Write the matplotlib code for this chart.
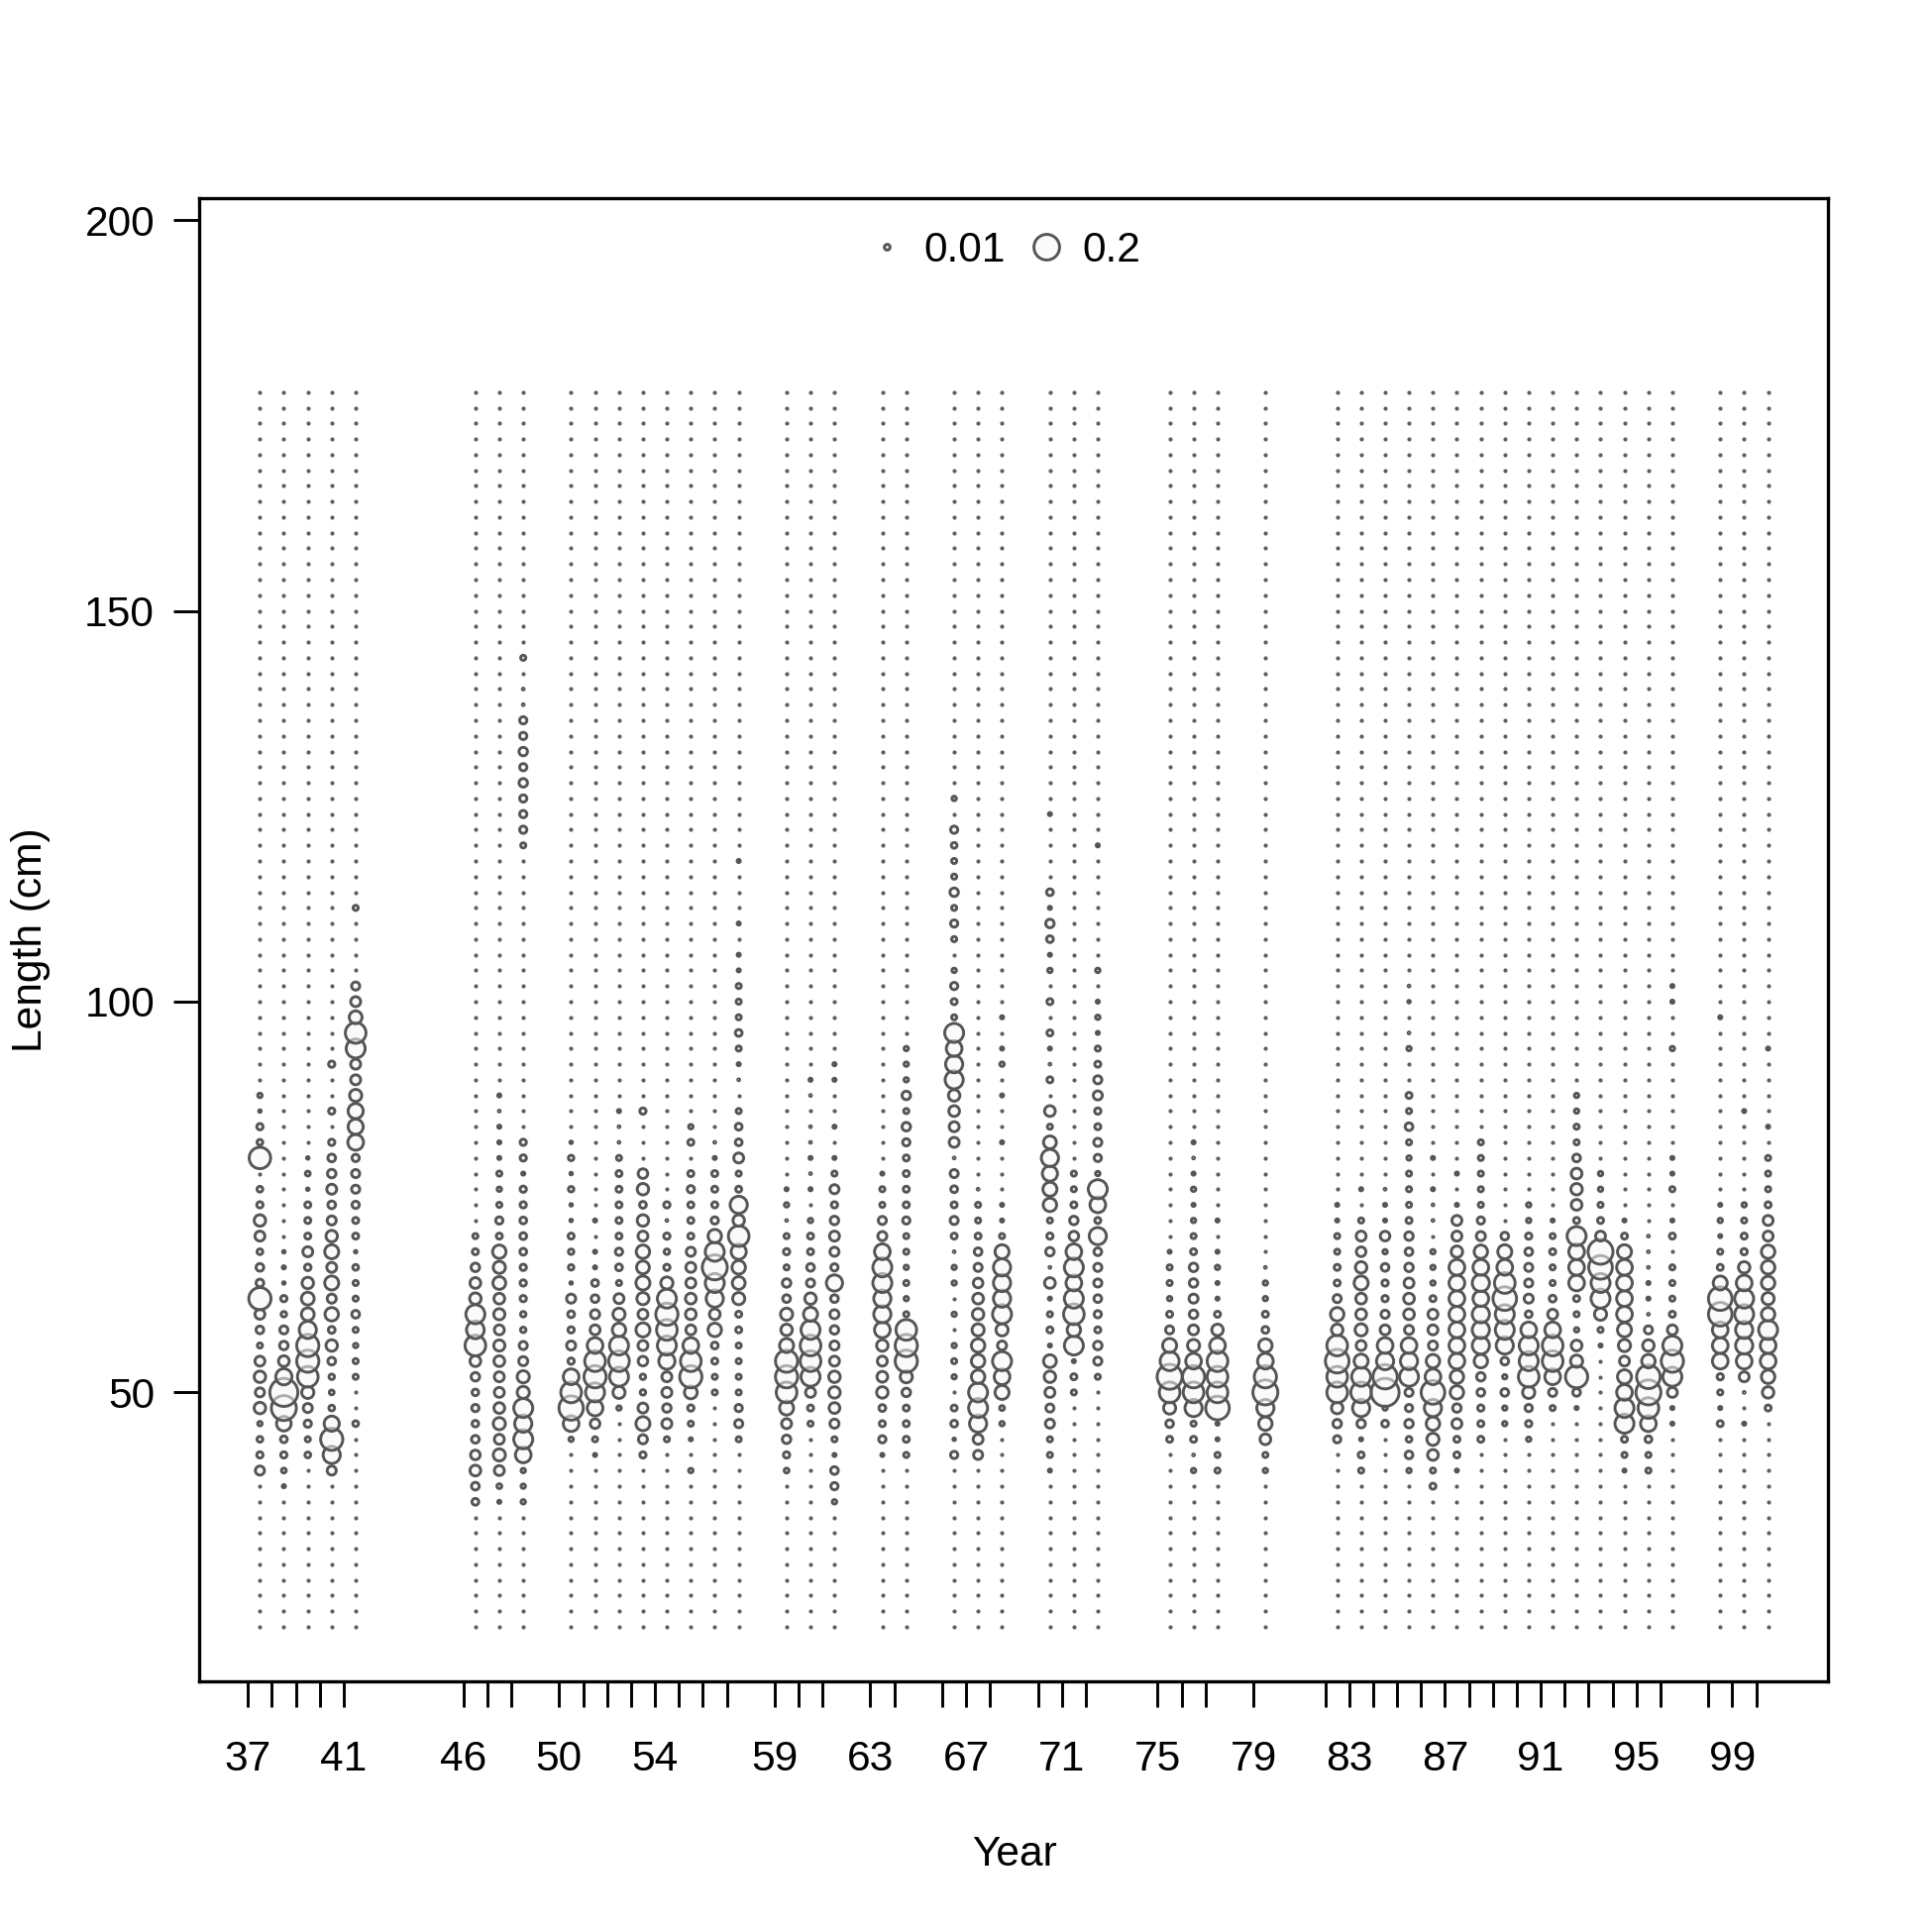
"""
Length composition bubble plot by year (proportion at length).
"""

import numpy as np
import matplotlib
matplotlib.use("Agg")
import matplotlib.pyplot as plt
from matplotlib.lines import Line2D

plt.rcParams['font.family'] = ['Liberation Sans', 'DejaVu Sans']

# length bins (cm)
bins = np.arange(20, 180, 2)

# sampled years and the first length bin listed for each
years = [37, 38, 39, 40, 41, 46, 47, 48, 50, 51, 52, 53, 54, 55, 56, 57,
         59, 60, 61, 63, 64, 66, 67, 68, 70, 71, 72, 75, 76, 77, 79,
         82, 83, 84, 85, 86, 87, 88, 89, 90, 91, 92, 93, 94, 95, 96,
         98, 99, 100]
first_len = [40, 38, 42, 40, 46, 36, 36, 36, 44, 42, 48, 42, 44, 40, 50, 44,
             40, 46, 36, 42, 42, 42, 42, 46, 40, 50, 52, 44, 40, 40, 40,
             44, 40, 46, 40, 38, 40, 44, 46, 44, 48, 48, 56, 40, 40, 46,
             46, 46, 48]

# proportions at length, one row per year, bins every 2 cm from first_len
props = [
    [0.025, 0.012, 0.01, 0.006, 0.04, 0.025, 0.04, 0.03, 0.008, 0.018, 0.03, 0.15, 0.018,
     0.018, 0.01, 0.03, 0.04, 0.012, 0.01, 0, 0.14, 0.01, 0.012, 0.002, 0.006],            # 37
    [0.003, 0.007, 0.012, 0.014, 0.065, 0.19, 0.24, 0.08, 0.035, 0.022, 0.02, 0.009, 0.012,
     0.002, 0.003, 0.002],                                                                    # 38
    [0.01, 0.008, 0.016, 0.025, 0.045, 0.13, 0.15, 0.15, 0.09, 0.05, 0.05, 0.04, 0.013,
     0.03, 0.011, 0.011, 0.011, 0.002, 0.007, 0.002],                                        # 39
    [0.025, 0.09, 0.15, 0.07, 0.01, 0.007, 0.009, 0.018, 0.04, 0.014, 0.055, 0.025, 0.06,
     0.03, 0.06, 0.04, 0.025, 0.018, 0.03, 0.022, 0.018, 0.012, 0, 0.012, 0, 0, 0.012],     # 40
    [0.01, 0, 0, 0.008, 0.008, 0.006, 0.008, 0.018, 0.008, 0.008, 0.01, 0.002, 0.011,
     0.011, 0.016, 0.02, 0.02, 0.016, 0.075, 0.07, 0.07, 0.045, 0.03, 0.03, 0.11, 0.13,
     0.05, 0.03, 0.02, 0, 0, 0, 0, 0.008],                                                   # 41
    [0.014, 0.018, 0.035, 0.028, 0.018, 0.013, 0.016, 0.013, 0.022, 0.035, 0.13, 0.095,
     0.11, 0.04, 0.035, 0.022, 0.011, 0.008],                                                 # 46
    [0.003, 0.007, 0.03, 0.045, 0.03, 0.045, 0.035, 0.03, 0.03, 0.035, 0.038, 0.03, 0.038,
     0.035, 0.05, 0.045, 0.055, 0.011, 0.016, 0.008, 0.006, 0.008, 0.003, 0.003, 0.003,
     0.001, 0.003],                                                                           # 47
    [0.006, 0.006, 0.006, 0.075, 0.11, 0.09, 0.11, 0.045, 0.045, 0.025, 0.02, 0.009, 0.009,
     0.012, 0.012, 0.012, 0.014, 0.014, 0.014, 0.012, 0.012, 0.003, 0.012, 0.012,
     0, 0, 0, 0, 0, 0, 0, 0, 0, 0, 0, 0, 0, 0, 0, 0, 0, 0,
     0.008, 0.016, 0.016, 0.016, 0.022, 0.016, 0.022, 0.016, 0.016, 0.001, 0.001, 0, 0.008],  # 48
    [0.006, 0.075, 0.18, 0.13, 0.075, 0.012, 0.025, 0.012, 0.014, 0.025, 0.002, 0.009,
     0.009, 0.011, 0.002, 0.002, 0.009, 0.002, 0.009, 0.002],                                # 50
    [0.003, 0.008, 0.028, 0.075, 0.11, 0.15, 0.13, 0.075, 0.03, 0.025, 0.018, 0.014, 0.003,
     0.003, 0, 0.003],                                                                        # 51
    [0.006, 0.045, 0.11, 0.13, 0.11, 0.055, 0.045, 0.03, 0.008, 0.014, 0.016, 0.011, 0.011,
     0.011, 0.011, 0.011, 0.008, 0.001, 0.001, 0.003],                                       # 52
    [0.012, 0.025, 0.06, 0.03, 0.009, 0.009, 0.028, 0.03, 0.06, 0.03, 0.045, 0.06, 0.05,
     0.055, 0.03, 0.04, 0.014, 0.04, 0.028, 0, 0, 0, 0.012],                                 # 53
    [0.008, 0.03, 0.022, 0.03, 0.03, 0.08, 0.11, 0.13, 0.15, 0.11, 0.045, 0.012, 0.009,
     0.012, 0.001, 0.012],                                                                    # 54
    [0.006, 0, 0.003, 0.008, 0.012, 0.05, 0.15, 0.13, 0.075, 0.03, 0.035, 0.035, 0.03, 0.03,
     0.025, 0.011, 0.011, 0.011, 0.016, 0.011, 0, 0.011, 0.006],                             # 55
    [0.008, 0.008, 0.011, 0.014, 0.055, 0.035, 0.09, 0.11, 0.19, 0.11, 0.055, 0.016, 0.011,
     0.011, 0.011, 0.003, 0.001],                                                             # 56
    [0.008, 0.02, 0.016, 0.008, 0.008, 0.008, 0.008, 0.011, 0.011, 0.045, 0.05, 0.055, 0.07,
     0.13, 0.04, 0.09, 0.011, 0.008, 0.03, 0.014, 0.014, 0.008, 0, 0.001, 0.003, 0.008,
     0.014, 0.008, 0.008, 0.008, 0.003, 0.003, 0, 0.003, 0, 0, 0, 0.003],                    # 57
    [0.007, 0.012, 0.022, 0.03, 0.06, 0.13, 0.15, 0.15, 0.06, 0.04, 0.045, 0.018, 0.022,
     0.008, 0.012, 0.008, 0.001, 0.006, 0.003],                                               # 59
    [0.008, 0.011, 0.03, 0.11, 0.13, 0.13, 0.11, 0.06, 0.04, 0.02, 0.018, 0.011, 0.011,
     0.006, 0, 0.003, 0.001, 0.003, 0.001, 0.001, 0, 0.001, 0.003],                          # 60
    [0.006, 0.016, 0.018, 0.003, 0.008, 0.025, 0.035, 0.04, 0.04, 0.03, 0.025, 0.022, 0.025,
     0.018, 0.08, 0.016, 0.025, 0.03, 0.022, 0.012, 0.025, 0.008, 0.003, 0, 0.003, 0, 0,
     0.003, 0.003],                                                                           # 61
    [0.003, 0.016, 0.011, 0.014, 0.04, 0.035, 0.03, 0.04, 0.075, 0.09, 0.09, 0.11, 0.11,
     0.075, 0.025, 0.02, 0.008, 0.008, 0.003],                                               # 63
    [0.008, 0.011, 0.011, 0.011, 0.022, 0.045, 0.15, 0.15, 0.13, 0.008, 0.006, 0.008, 0.006,
     0.008, 0.008, 0.016, 0.011, 0.011, 0.011, 0.011, 0.016, 0.022, 0.008, 0.022, 0.006,
     0.006, 0.006],                                                                           # 64
    [0.016, 0.002, 0.014, 0.011, 0, 0.006, 0.008, 0.006, 0, 0.006, 0, 0.006, 0.006, 0.001,
     0.011, 0.02, 0.011, 0.014, 0.02, 0.001, 0.03, 0.03, 0.035, 0.04, 0.1, 0.09, 0.075,
     0.11, 0.008, 0.011, 0.016, 0.006, 0, 0.008, 0.016, 0.008, 0.022, 0.008, 0.008, 0.01,
     0.016, 0, 0.006],                                                                        # 66
    [0.025, 0.03, 0.09, 0.11, 0.11, 0.055, 0.055, 0.055, 0.045, 0.04, 0.035, 0.028, 0.02,
     0.018, 0.011, 0.008, 0.008, 0.001],                                                      # 67
    [0.006, 0.007, 0.06, 0.075, 0.11, 0.025, 0.045, 0.11, 0.09, 0.09, 0.09, 0.06, 0.008,
     0.003, 0.003, 0, 0, 0, 0.003, 0, 0, 0.003, 0, 0.006, 0.003, 0, 0.003],                  # 68
    [0.003, 0.008, 0.008, 0.025, 0.02, 0.03, 0.04, 0.05, 0.003, 0.011, 0.008, 0.003, 0.035,
     0.001, 0.022, 0.012, 0.008, 0.055, 0.06, 0.07, 0.09, 0.05, 0.008, 0.035, 0, 0.011,
     0.001, 0.003, 0.011, 0, 0.011, 0, 0.006, 0.003, 0.014, 0.022, 0.003, 0.014, 0, 0, 0,
     0, 0.003],                                                                               # 70
    [0.008, 0.011, 0.003, 0.11, 0.055, 0.13, 0.11, 0.075, 0.11, 0.075, 0.028, 0.022, 0.011,
     0.008, 0.008],                                                                           # 71
    [0.008, 0.02, 0.022, 0.011, 0.016, 0.018, 0.02, 0.02, 0.018, 0.09, 0.011, 0.075, 0.11,
     0.006, 0.016, 0.02, 0.011, 0.012, 0.025, 0.02, 0.011, 0.008, 0.003, 0.006, 0.003, 0,
     0.006, 0, 0, 0, 0, 0, 0, 0, 0.003],                                                     # 72
    [0.011, 0.018, 0.045, 0.13, 0.19, 0.11, 0.06, 0.02, 0.011, 0.006, 0.008, 0.008, 0.003],  # 75
    [0.006, 0.001, 0.011, 0.008, 0.09, 0.13, 0.15, 0.075, 0.045, 0.03, 0.022, 0.025, 0.022,
     0.022, 0.011, 0.008, 0.006, 0.003, 0.006, 0.003, 0.001, 0.003],                         # 76
    [0.008, 0.008, 0.003, 0.003, 0.17, 0.13, 0.13, 0.13, 0.075, 0.04, 0.011, 0.003, 0.003,
     0.006, 0.003, 0, 0.003],                                                                 # 77
    [0.006, 0.008, 0.035, 0.055, 0.09, 0.19, 0.15, 0.075, 0.055, 0.014, 0.011, 0.006, 0.006,
     0.001],                                                                                  # 79
    [0.016, 0.022, 0.04, 0.13, 0.13, 0.17, 0.13, 0.04, 0.055, 0.02, 0.011, 0.011, 0.008,
     0.008, 0.003, 0.003],                                                                    # 82
    [0.008, 0.011, 0.003, 0.022, 0.09, 0.13, 0.11, 0.06, 0.03, 0.045, 0.035, 0.035, 0.06,
     0.04, 0.028, 0.03, 0.008, 0, 0.003],                                                     # 83
    [0.014, 0.006, 0.24, 0.18, 0.09, 0.075, 0.03, 0.02, 0.012, 0.012, 0.018, 0.006, 0.028,
     0.003, 0.003, 0.001],                                                                    # 84
    [0.006, 0.018, 0.01, 0.022, 0.016, 0.02, 0.11, 0.09, 0.075, 0.025, 0.035, 0.035, 0.03,
     0.022, 0.018, 0.022, 0.011, 0.008, 0.008, 0.008, 0.006, 0.008, 0.018, 0.008, 0.011,
     0, 0, 0.006, 0.001, 0, 0.002, 0.001],                                                   # 85
    [0.011, 0.008, 0.035, 0.045, 0.055, 0.09, 0.17, 0.075, 0.055, 0.025, 0.03, 0.03, 0.011,
     0.006, 0.006, 0.006, 0, 0.001, 0.001, 0.003, 0, 0.003],                                 # 86
    [0.003, 0.011, 0.011, 0.03, 0.022, 0.055, 0.055, 0.075, 0.075, 0.075, 0.075, 0.075,
     0.075, 0.075, 0.04, 0.03, 0.03, 0.003, 0, 0.003],                                       # 87
    [0.011, 0.011, 0.012, 0.018, 0.022, 0.055, 0.09, 0.09, 0.09, 0.075, 0.09, 0.075, 0.055,
     0.025, 0.016, 0.008, 0.008, 0.008, 0.008, 0.008],                                       # 88
    [0.006, 0.006, 0.018, 0.006, 0.018, 0.09, 0.11, 0.11, 0.17, 0.13, 0.075, 0.06, 0.018],   # 89
    [0.006, 0.012, 0.016, 0.045, 0.13, 0.11, 0.11, 0.075, 0.014, 0.025, 0.02, 0.02, 0.018,
     0.012, 0.006, 0.006],                                                                    # 90
    [0.008, 0.02, 0.075, 0.13, 0.13, 0.075, 0.03, 0.014, 0.008, 0.008, 0.011, 0.008, 0.003],  # 91
    [0.003, 0.018, 0.15, 0.045, 0.035, 0.006, 0.008, 0.011, 0.075, 0.075, 0.075, 0.11, 0.011,
     0.035, 0.04, 0.035, 0.018, 0.008, 0.008, 0.006, 0.006],                                 # 92
    [0.003, 0.008, 0.045, 0.11, 0.11, 0.17, 0.19, 0.03, 0.011, 0.008, 0.006, 0.006],          # 93
    [0.003, 0.008, 0.011, 0.11, 0.11, 0.075, 0.06, 0.03, 0.045, 0.06, 0.075, 0.075, 0.075,
     0.075, 0.06, 0.011, 0.003],                                                              # 94
    [0.008, 0.008, 0.014, 0.075, 0.13, 0.19, 0.17, 0.055, 0.04, 0.02, 0.001, 0.003, 0.003,
     0.001, 0.001, 0.001],                                                                    # 95
    [0.003, 0.003, 0.03, 0.11, 0.15, 0.11, 0.03, 0.011, 0.008, 0.008, 0.008, 0, 0.011, 0.003,
     0, 0.008, 0.003, 0.003, 0, 0, 0, 0, 0, 0, 0.006, 0, 0, 0.003, 0.003],                  # 96
    [0.011, 0.003, 0.008, 0.012, 0.075, 0.075, 0.075, 0.17, 0.17, 0.06, 0.011, 0.008, 0.003,
     0.006, 0.003, 0, 0, 0, 0, 0, 0, 0, 0, 0, 0, 0, 0.003],                                  # 98
    [0.003, 0, 0.001, 0.03, 0.075, 0.09, 0.09, 0.11, 0.11, 0.075, 0.04, 0.012, 0.011, 0.008,
     0.006, 0, 0, 0, 0, 0, 0.003],                                                            # 99
    [0.011, 0.04, 0.055, 0.075, 0.075, 0.11, 0.055, 0.045, 0.055, 0.055, 0.055, 0.03, 0.03,
     0.011, 0.008, 0.008, 0.008, 0, 0.003, 0, 0, 0, 0, 0.003],                               # 100
]

label_years = [37, 41, 46, 50, 54, 59, 63, 67, 71, 75, 79, 83, 87, 91, 95, 99]
legend_vals = [0.01, 0.2]

EDGE = '#555555'
FACE = (0.97, 0.97, 0.97, 0.55)
REF_VAL, REF_DIAM = 0.2, 6.2      # 0.2 -> diameter in points
RING_LW = 0.7
FS = 10.2


def diam(v):
    return REF_DIAM * np.sqrt(np.asarray(v, dtype=float) / REF_VAL)


def main():
    # build long table: x = year + 0.5 (mid-year), y = length bin
    xs, ys, vs = [], [], []
    for yr, start, vals in zip(years, first_len, props):
        full = np.zeros(len(bins))
        i0 = int(np.searchsorted(bins, start))
        full[i0:i0 + len(vals)] = vals
        xs.append(np.full(len(bins), yr + 0.5))
        ys.append(bins)
        vs.append(full)
    xs = np.concatenate(xs)
    ys = np.concatenate(ys)
    vs = np.concatenate(vs)

    fig = plt.figure(figsize=(6.5, 6.5), dpi=300)
    ax = fig.add_axes([0.1033, 0.1295, 0.8431, 0.768])

    zero = vs <= 0
    ax.scatter(xs[zero], ys[zero], s=1.0 ** 2, c='#5e5e5e', linewidths=0, zorder=2)
    nz = ~zero
    ax.scatter(xs[nz], ys[nz], s=diam(vs[nz]) ** 2, facecolors=[FACE],
               edgecolors=EDGE, linewidths=RING_LW, zorder=3)

    # R-style 4% expanded limits
    xr = (min(years) + 0.5, max(years) + 0.5)
    yr_ = (bins.min(), bins.max() * 1.1)
    dx = 0.04 * (xr[1] - xr[0])
    dy = 0.04 * (yr_[1] - yr_[0])
    ax.set_xlim(xr[0] - dx, xr[1] + dx)
    ax.set_ylim(yr_[0] - dy, yr_[1] + dy)

    ax.set_xticks(years)
    ax.set_xticklabels([str(y) if y in label_years else '' for y in years])
    ax.set_yticks([50, 100, 150, 200])
    ax.tick_params(axis='x', length=6.3, width=0.7, pad=7.8, labelsize=FS)
    ax.tick_params(axis='y', length=6.3, width=0.7, pad=4.6, labelsize=FS)
    for sp in ax.spines.values():
        sp.set_linewidth(0.8)

    fig.text(1023.5 / 1950, 1 - 1871.7 / 1950, 'Year', ha='center', va='center',
             fontsize=FS)
    fig.text(31 / 1950, 1 - 949 / 1950, 'Length (cm)', ha='center', va='center',
             rotation=90, fontsize=FS)

    handles = [Line2D([], [], ls='none', marker='o', markersize=float(diam(v)),
                      markerfacecolor=FACE, markeredgecolor=EDGE, markeredgewidth=RING_LW)
               for v in legend_vals]
    ax.legend(handles, [str(v) for v in legend_vals], loc='center', ncol=2,
              frameon=False, fontsize=FS, handlelength=0.8, handletextpad=0.46,
              columnspacing=0.58, borderpad=0, borderaxespad=0,
              bbox_to_anchor=(1015 / 1950, 1 - 253 / 1950),
              bbox_transform=fig.transFigure)

    fig.savefig('out.png', dpi=300, facecolor='white')


if __name__ == "__main__":
    main()
